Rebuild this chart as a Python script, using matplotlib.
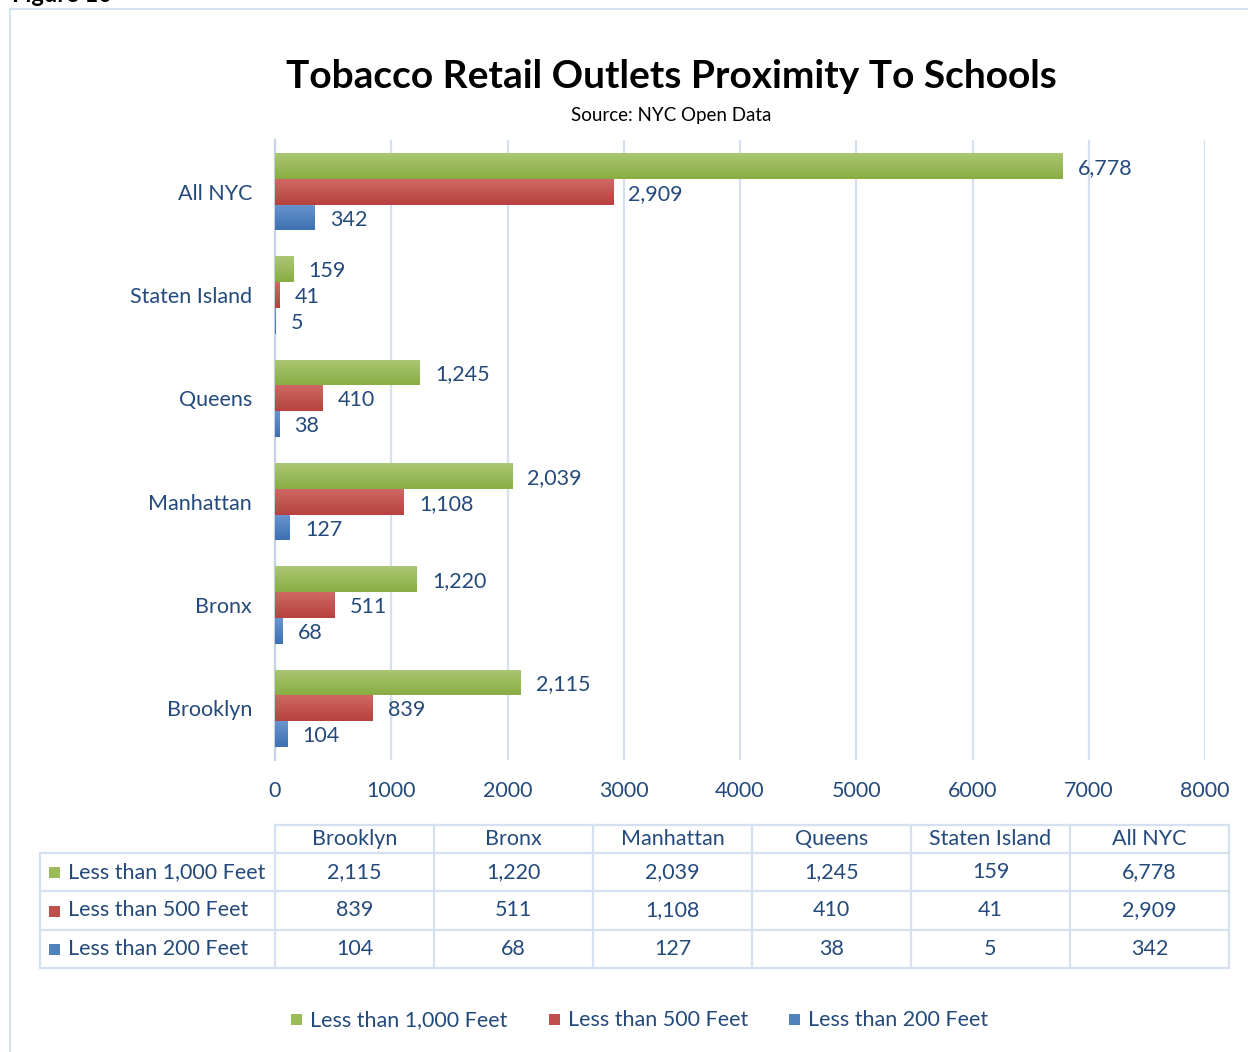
import numpy as np
import matplotlib
matplotlib.use("Agg")
import matplotlib.pyplot as plt
from matplotlib.colors import LinearSegmentedColormap
from matplotlib.patches import Rectangle

plt.rcParams['font.family'] = ['Lato', 'DejaVu Sans']

# Data
boroughs = ["Brooklyn", "Bronx", "Manhattan", "Queens", "Staten Island", "All NYC"]
series_names = ["Less than 1,000 Feet", "Less than 500 Feet", "Less than 200 Feet"]
less_1000 = [2115, 1220, 2039, 1245, 159, 6778]
less_500 = [839, 511, 1108, 410, 41, 2909]
less_200 = [104, 68, 127, 38, 5, 342]
x_ticks = [0, 1000, 2000, 3000, 4000, 5000, 6000, 7000, 8000]

TXT = '#244A7C'
GRID = '#D5E1F0'
FS = 15.5
base_colors = ['#9BBB59', '#C0504D', '#4F81BD']
grad_top = ['#AAC774', '#CF6864', '#6A95CE']
grad_bot = ['#89AD42', '#B7413E', '#3D70B2']

W, H = 1248, 1052
fig = plt.figure(figsize=(W / 100, H / 100), dpi=100)

# Overlay axes in pixel coordinates for frame, titles, table, legend
ov = fig.add_axes([0, 0, 1, 1])
ov.set_xlim(0, W)
ov.set_ylim(H, 0)
ov.axis('off')

# Chart frame
ov.plot([10, 10], [9, H], color=GRID, lw=1.5)
ov.plot([10, W], [9, 9], color=GRID, lw=1.5)
ov.text(12, -6, "Figure 10", fontsize=17, fontweight='bold', color='black',
        ha='left', va='center', clip_on=False)

ov.text(671, 77, "Tobacco Retail Outlets Proximity To Schools", fontsize=28,
        fontweight='bold', ha='center', va='center', color='black')
ov.text(671, 115, "Source: NYC Open Data", fontsize=13.5, ha='center', va='center',
        color='black')

# Bar chart
px_l, px_r, px_t, px_b = 275, 1205, 140, 760
ax = fig.add_axes([px_l / W, 1 - px_b / H, (px_r - px_l) / W, (px_b - px_t) / H])
ax.set_facecolor('none')

y = np.arange(len(boroughs))
h = 0.25
series = [less_1000, less_500, less_200]
offsets = [h, 0, -h]
for vals, off, c, ct, cb in zip(series, offsets, base_colors, grad_top, grad_bot):
    bars = ax.barh(y + off, vals, height=h, color=c, zorder=3, linewidth=0)
    cmap = LinearSegmentedColormap.from_list('g', [cb, ct])
    grad = np.linspace(0, 1, 50).reshape(-1, 1)
    for b, v in zip(bars, vals):
        x0, y0 = b.get_x(), b.get_y()
        im = ax.imshow(grad, extent=[x0, x0 + b.get_width(), y0, y0 + b.get_height()],
                       cmap=cmap, aspect='auto', origin='lower', zorder=4)
        im.set_clip_path(b)
        ax.text(v + 130, b.get_y() + b.get_height() / 2 - 0.02, f"{v:,}", fontsize=FS,
                color=TXT, va='center', ha='left', zorder=5)

ax.set_xlim(0, 8000)
ax.set_ylim(-0.5, len(boroughs) - 0.5)
ax.set_xticks(x_ticks)
ax.set_xticklabels([str(t) for t in x_ticks], fontsize=FS, color=TXT)
ax.set_yticks(y)
ax.set_yticklabels(boroughs, fontsize=FS, color=TXT)
ax.tick_params(length=0)
ax.tick_params(axis='y', pad=16.5)
ax.tick_params(axis='x', pad=15)
ax.grid(axis='x', color=GRID, lw=1.6, zorder=0)
for s in ['top', 'right', 'bottom']:
    ax.spines[s].set_visible(False)
ax.spines['left'].set_color('#C6D3E3')
ax.spines['left'].set_linewidth(1.6)

# Data table
col_x = [275, 434, 593, 752, 911, 1070, 1229]
row_y = [825, 853, 891, 930, 968]
lab_x0 = 40
lw = 1.6
ov.plot([col_x[0], col_x[-1]], [row_y[0], row_y[0]], color=GRID, lw=lw)
for yy in row_y[1:]:
    ov.plot([lab_x0, col_x[-1]], [yy, yy], color=GRID, lw=lw)
for xx in col_x:
    ov.plot([xx, xx], [row_y[0], row_y[-1]], color=GRID, lw=lw)
ov.plot([lab_x0, lab_x0], [row_y[1], row_y[-1]], color=GRID, lw=lw)

for j, name in enumerate(boroughs):
    cx = (col_x[j] + col_x[j + 1]) / 2
    ov.text(cx, (row_y[0] + row_y[1]) / 2, name, fontsize=FS, color=TXT,
            ha='center', va='center')
for i, (sname, vals) in enumerate(zip(series_names, series)):
    cy = (row_y[i + 1] + row_y[i + 2]) / 2
    ov.add_patch(Rectangle((49, cy - 5), 11, 11, color=base_colors[i], lw=0))
    ov.text(68, cy, sname, fontsize=FS, color=TXT, ha='left', va='center')
    for j, v in enumerate(vals):
        cx = (col_x[j] + col_x[j + 1]) / 2
        ov.text(cx, cy, f"{v:,}", fontsize=FS, color=TXT, ha='center', va='center')

# Legend
leg_x = [291, 549, 789]
for lx, sname, c in zip(leg_x, series_names, base_colors):
    ov.add_patch(Rectangle((lx, 1014), 11, 11, color=c, lw=0))
    ov.text(lx + 19, 1020, sname, fontsize=FS, color=TXT, ha='left', va='center')

fig.savefig("out.png", dpi=100)
